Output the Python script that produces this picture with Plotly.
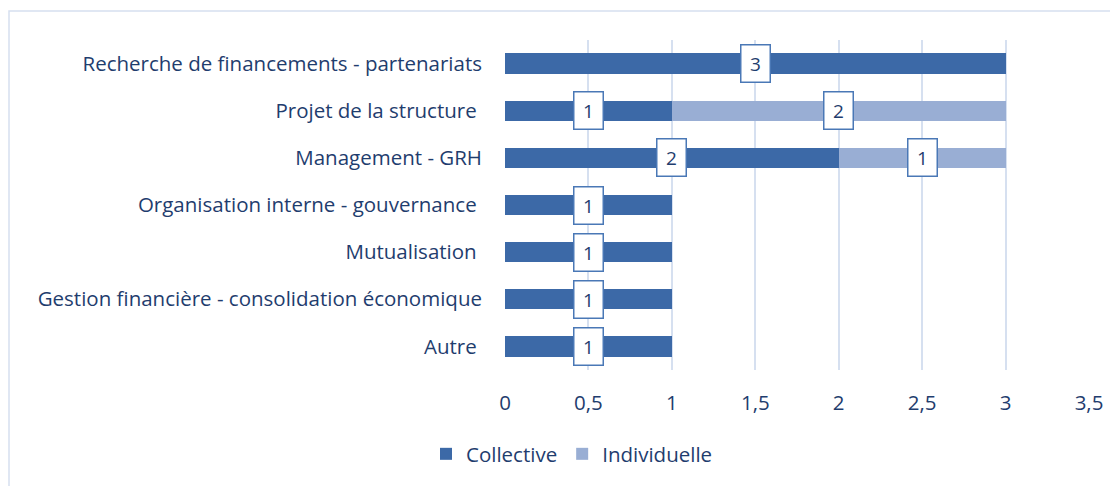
import plotly.graph_objects as go

categories = [
    "Recherche de financements - partenariats",
    "Projet de la structure ",
    "Management - GRH",
    "Organisation interne - gouvernance ",
    "Mutualisation ",
    "Gestion financière - consolidation économique",
    "Autre ",
]
collective = [3, 1, 2, 1, 1, 1, 1]
individuelle = [0, 2, 1, 0, 0, 0, 0]
tick_vals = [0, 0.5, 1, 1.5, 2, 2.5, 3, 3.5]
tick_text = ["0", "0,5", "1", "1,5", "2", "2,5", "3", "3,5"]

TEXT = "#1f3d6e"
FONT = "Open Sans"
FS = 20.5
OFF = 8  # page body margin

W, H = 1118 - OFF, 486 - OFF
L, R_EDGE, T, B_EDGE = 505 - OFF, 1089 - OFF, 40 - OFF, 370 - OFF

fig = go.Figure()
fig.add_trace(go.Bar(
    y=categories, x=collective, orientation="h", name="Collective",
    marker=dict(color="#3c69a7", line=dict(width=0)), width=0.43,
))
fig.add_trace(go.Bar(
    y=categories, x=individuelle, orientation="h", name="Individuelle",
    marker=dict(color="#99aed4", line=dict(width=0)), width=0.43,
))

annotations = []
for cat, c, i in zip(categories, collective, individuelle):
    for base, val in ((0, c), (c, i)):
        if val > 0:
            annotations.append(dict(
                x=base + val / 2, y=cat, xref="x", yref="y", text=str(val),
                showarrow=False, bgcolor="white", bordercolor="#4a78b6",
                borderwidth=1.5, borderpad=4, width=20, height=28,
                font=dict(family=FONT, size=19, color=TEXT),
            ))

pw = R_EDGE - L
ph = B_EDGE - T
fig.update_layout(
    width=W, height=H,
    margin=dict(l=L, r=W - R_EDGE, t=T, b=H - B_EDGE),
    barmode="stack",
    plot_bgcolor="white", paper_bgcolor="white",
    font=dict(family=FONT, size=FS, color=TEXT),
    annotations=annotations,
    showlegend=True,
    legend=dict(orientation="h", xref="container", yref="container",
                x=(572 - OFF) / W, xanchor="center",
                y=1 - (454 - OFF) / H, yanchor="middle",
                font=dict(family=FONT, size=FS, color=TEXT),
                itemwidth=30, traceorder="normal"),
    xaxis=dict(range=[0, 3.5], tickvals=tick_vals, ticktext=tick_text,
               showgrid=True, gridcolor="#d6e0f0", gridwidth=1.5,
               zeroline=False, showline=False, ticks="",
               ticklabelstandoff=18, fixedrange=True),
    yaxis=dict(autorange="reversed", showgrid=False, zeroline=False,
               showline=False, ticks="", ticklabelstandoff=22),
    shapes=[dict(type="rect", xref="paper", yref="paper",
                 x0=(9 - 505) / pw, x1=(1140 - 505) / pw,
                 y0=-(510 - 370) / ph, y1=1 + (40 - 11) / ph,
                 line=dict(color="#d6e0f0", width=1.5), layer="below")],
)

fig.write_html("out.html")
